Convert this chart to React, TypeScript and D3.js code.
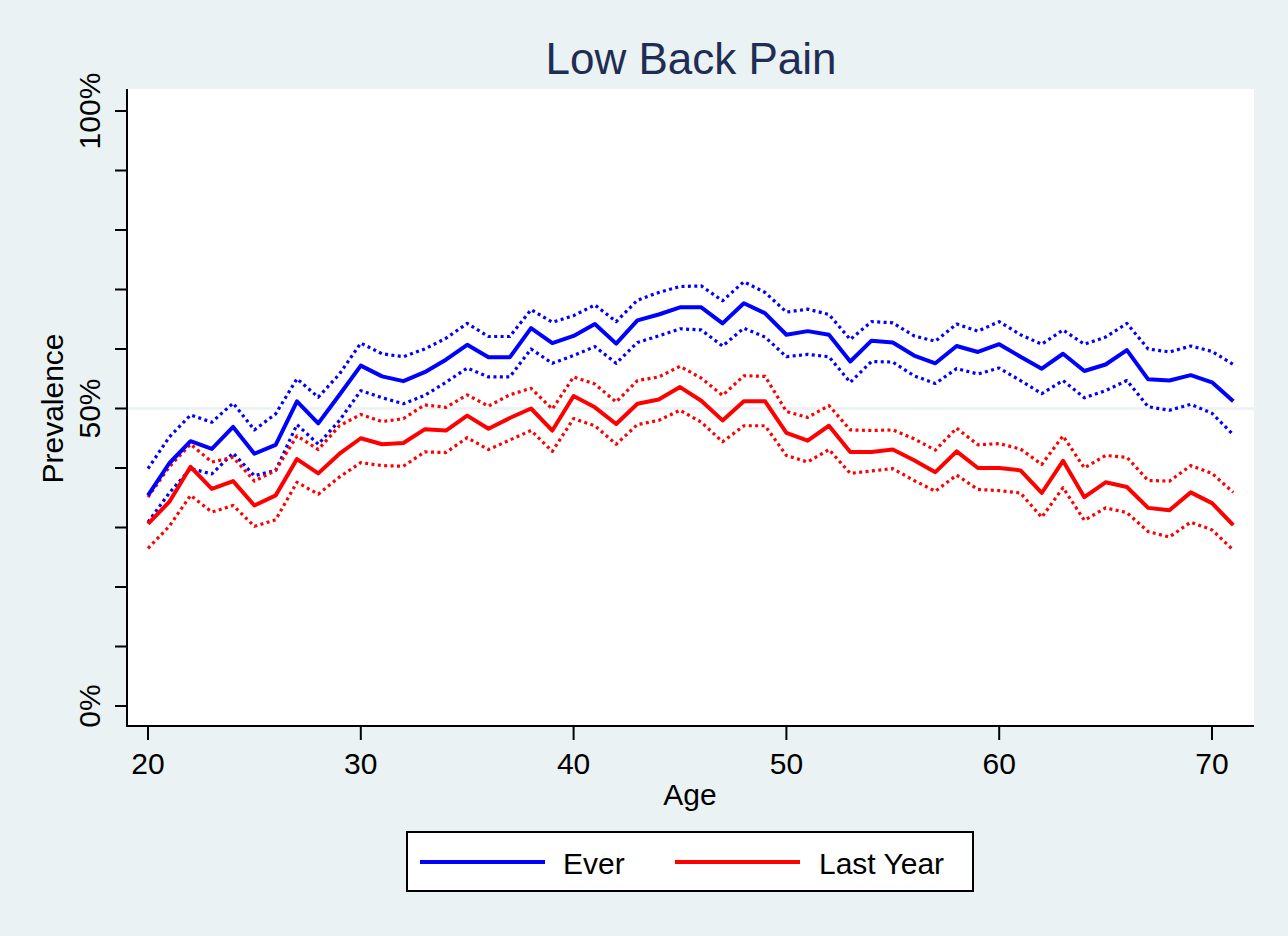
import { line, range, scaleLinear } from 'd3'
import { useMemo } from 'react'

// ages 20..71, prevalence in %
const ages = range(20, 72)

const ever = [
  35.4, 40.8, 44.5, 43.2, 46.9, 42.4, 43.9, 51.2, 47.5, 52.3, 57.2, 55.4, 54.6, 56.1, 58.2, 60.7, 58.6, 58.6,
  63.5, 61.0, 62.2, 64.2, 60.9, 64.8, 65.8, 67.0, 67.0, 64.3, 67.7, 66.0, 62.4, 63.0, 62.4, 57.9, 61.4, 61.1,
  58.9, 57.6, 60.5, 59.5, 60.8, 58.7, 56.7, 59.2, 56.3, 57.4, 59.8, 54.9, 54.7, 55.6, 54.4, 51.2,
]
const everHi = [
  39.9, 45.2, 48.9, 47.7, 50.9, 46.4, 49.1, 55.0, 51.9, 55.8, 61.0, 59.2, 58.7, 60.0, 61.8, 64.3, 62.1, 62.1,
  66.6, 64.5, 65.6, 67.4, 64.6, 68.2, 69.5, 70.5, 70.6, 68.1, 71.3, 69.5, 66.2, 66.7, 65.8, 61.6, 64.6, 64.4,
  62.2, 61.3, 64.2, 63.0, 64.6, 62.4, 60.8, 63.2, 60.8, 62.0, 64.3, 60.0, 59.5, 60.5, 59.6, 57.4,
]
const everLo = [
  30.9, 35.8, 39.9, 39.0, 42.5, 38.7, 39.6, 47.3, 44.0, 48.0, 53.0, 51.8, 50.8, 52.2, 54.4, 56.8, 55.3, 55.3,
  60.0, 57.6, 58.9, 60.4, 57.6, 61.1, 62.2, 63.4, 63.2, 60.5, 63.5, 62.0, 58.7, 59.1, 58.7, 54.4, 57.9, 57.8,
  55.5, 54.2, 56.7, 55.8, 56.8, 54.7, 52.5, 54.7, 51.8, 53.0, 54.7, 50.3, 49.7, 50.7, 49.2, 45.6,
]
const lastYear = [
  30.6, 34.3, 40.2, 36.5, 37.8, 33.7, 35.4, 41.5, 39.1, 42.4, 45.0, 44.0, 44.2, 46.5, 46.3, 48.8, 46.6, 48.4,
  50.0, 46.3, 52.1, 50.2, 47.4, 50.8, 51.5, 53.6, 51.3, 48.0, 51.2, 51.2, 45.9, 44.6, 47.1, 42.7, 42.7, 43.1,
  41.3, 39.3, 42.8, 40.0, 40.0, 39.6, 35.8, 41.2, 35.1, 37.6, 36.8, 33.3, 32.9, 35.9, 34.1, 30.4,
]
const lastYearHi = [
  35.1, 40.2, 44.0, 41.0, 41.8, 37.8, 39.6, 45.4, 43.1, 47.1, 49.0, 47.8, 48.3, 50.6, 50.2, 52.3, 50.4, 52.3,
  53.4, 49.9, 55.3, 54.1, 51.1, 54.7, 55.3, 57.1, 55.1, 52.2, 55.5, 55.4, 49.5, 48.5, 50.5, 46.4, 46.3, 46.4,
  44.9, 43.0, 46.7, 43.9, 44.1, 43.2, 40.6, 45.4, 40.0, 42.1, 41.8, 37.9, 37.8, 40.4, 39.1, 35.9,
]
const lastYearLo = [
  26.5, 30.2, 35.4, 32.6, 33.7, 30.2, 31.3, 37.6, 35.6, 38.5, 40.9, 40.4, 40.3, 42.7, 42.6, 45.1, 43.1, 44.7,
  46.3, 42.8, 48.3, 47.1, 44.0, 47.3, 48.0, 49.7, 47.7, 44.4, 47.1, 47.1, 42.1, 41.0, 43.1, 39.1, 39.5, 39.9,
  37.9, 36.1, 38.8, 36.4, 36.2, 35.8, 31.7, 36.7, 31.2, 33.3, 32.5, 29.3, 28.4, 30.9, 29.6, 26.2,
]

const xTicks = [20, 30, 40, 50, 60, 70]
const yTicks = range(0, 101, 10)
const yLabels = [0, 50, 100]

const width = 1288
const height = 936
const plot = { left: 127, right: 1254, top: 89, bottom: 726 }
const bg = '#eaf2f3'
const font = '"Liberation Sans", Arial, sans-serif'

const App = () => {
  const x = useMemo(() => scaleLinear().domain([20, 70]).range([148, 1212]), [])
  const y = useMemo(() => scaleLinear().domain([0, 100]).range([706, 111]), [])

  const path = (vals: number[]) =>
    line<number>()
      .x((_, i) => x(ages[i]))
      .y((d) => y(d))(vals) ?? ''

  const series = [
    { vals: everLo, color: '#0000ff', dotted: true },
    { vals: everHi, color: '#0000ff', dotted: true },
    { vals: lastYearLo, color: '#ff0000', dotted: true },
    { vals: lastYearHi, color: '#ff0000', dotted: true },
    { vals: ever, color: '#0000ff', dotted: false },
    { vals: lastYear, color: '#ff0000', dotted: false },
  ]

  return (
    <svg
      width={width}
      height={height}
      style={{ position: 'absolute', left: 0, top: 0, display: 'block' }}
      fontFamily={font}
    >
      <rect width={width} height={height} fill={bg} />
      <rect
        x={plot.left}
        y={plot.top}
        width={plot.right - plot.left}
        height={plot.bottom - plot.top}
        fill="#fff"
      />
      {/* gridline at 50% */}
      <line x1={plot.left} x2={plot.right} y1={y(50)} y2={y(50)} stroke={bg} strokeWidth={2.5} />

      <text x={691} y={74} textAnchor="middle" fontSize={44} fill="#1f2d55">
        Low Back Pain
      </text>

      {series.map((s, i) => (
        <path
          key={i}
          d={path(s.vals)}
          fill="none"
          stroke={s.color}
          strokeWidth={s.dotted ? 3.2 : 4}
          strokeDasharray={s.dotted ? '3 3.4' : undefined}
          strokeLinejoin="round"
        />
      ))}

      {/* axes */}
      <line x1={plot.left} x2={plot.left} y1={plot.top} y2={plot.bottom + 1} stroke="#000" strokeWidth={2} />
      <line x1={plot.left - 1} x2={plot.right} y1={plot.bottom} y2={plot.bottom} stroke="#000" strokeWidth={2} />

      {yTicks.map((t) => (
        <line key={t} x1={plot.left - 12} x2={plot.left} y1={y(t)} y2={y(t)} stroke="#000" strokeWidth={2} />
      ))}
      {yLabels.map((t) => (
        <text
          key={t}
          transform={`translate(100, ${y(t)}) rotate(-90)`}
          textAnchor="middle"
          fontSize={30}
          fill="#000"
        >
          {t}%
        </text>
      ))}
      <text transform={`translate(63, ${y(50)}) rotate(-90)`} textAnchor="middle" fontSize={30} fill="#000">
        Prevalence
      </text>

      {xTicks.map((t) => (
        <g key={t}>
          <line x1={x(t)} x2={x(t)} y1={plot.bottom} y2={plot.bottom + 14} stroke="#000" strokeWidth={2} />
          <text x={x(t)} y={774} textAnchor="middle" fontSize={30} fill="#000">
            {t}
          </text>
        </g>
      ))}
      <text x={690} y={805} textAnchor="middle" fontSize={30} fill="#000">
        Age
      </text>

      {/* legend */}
      <rect x={407} y={832} width={566} height={59} fill="#fff" stroke="#000" strokeWidth={2} />
      <line x1={420} x2={545} y1={862} y2={862} stroke="#0000ff" strokeWidth={4} />
      <text x={563} y={874} fontSize={30} fill="#000">
        Ever
      </text>
      <line x1={675} x2={800} y1={862} y2={862} stroke="#ff0000" strokeWidth={4} />
      <text x={819} y={874} fontSize={30} fill="#000">
        Last Year
      </text>
    </svg>
  )
}

export default App
